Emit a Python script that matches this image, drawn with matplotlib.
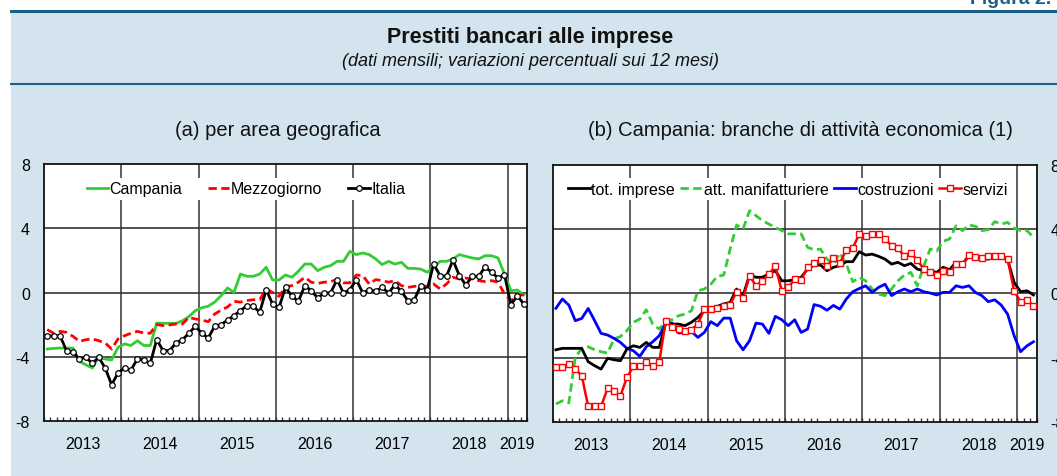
import numpy as np
import matplotlib
matplotlib.use("Agg")
import matplotlib.pyplot as plt
from matplotlib.patches import Rectangle
from matplotlib.lines import Line2D

plt.rcParams['font.family'] = ['Liberation Sans', 'DejaVu Sans']
plt.rcParams['axes.unicode_minus'] = False

# ------------------ DATA (monthly, Jan 2013 - Mar 2019) ------------------
year_labels = ['2013', '2014', '2015', '2016', '2017', '2018', '2019']

# (a) per area geografica
campania = [-3.52, -3.48, -3.46, -3.46, -3.46, -4.29, -4.5, -4.70, -4.04, -4.14,
            -4.2, -3.41, -3.2, -3.3, -3.0, -3.3, -3.3, -1.90, -1.92, -1.92,
            -1.92, -1.76, -1.5, -1.13, -0.95, -0.85, -0.6, -0.2, 0.28, 0.01,
            1.15, 1.01, 1.01, 1.15, 1.57, 0.78, 0.78, 1.09, 0.95, 1.32,
            1.77, 1.77, 1.36, 1.57, 1.67, 1.94, 1.94, 2.56, 2.36, 2.46,
            2.36, 2.09, 1.74, 1.94, 1.77, 1.88, 1.50, 1.50, 1.46, 1.26,
            1.57, 1.94, 1.94, 2.09, 2.36, 2.25, 2.15, 2.09, 2.29, 2.29,
            2.15, 1.15, 0.11, 0.15, -0.14]
mezzogiorno = [-2.31, -2.54, -2.42, -2.48, -2.73, -3.04, -2.94, -2.89, -3.0, -3.14,
               -3.52, -2.89, -2.69, -2.54, -2.42, -2.52, -2.54, -2.0, -2.06, -2.02,
               -1.96, -1.96, -1.55, -1.65, -1.71, -1.82, -1.34, -1.1, -0.9, -0.55,
               -0.6, -0.5, -0.45, -0.45, 0.22, 0.0, -0.24, 0.36, 0.43, 0.64,
               0.95, 0.64, 0.57, 0.64, 0.68, 0.8, 0.6, 0.6, 1.09, 1.05,
               0.53, 0.80, 0.74, 0.64, 0.74, 0.43, 0.32, 0.38, 0.43, 0.38,
               0.53, 0.22, 0.53, 0.95, 0.84, 0.90, 0.84, 0.74, 0.68, 0.74,
               0.64, -0.09, -0.51, -0.2, -0.14]
italia = [-2.71, -2.71, -2.71, -3.62, -3.73, -4.14, -4.04, -4.41, -4.04, -4.70,
          -5.74, -5.01, -4.70, -4.83, -4.14, -4.20, -4.41, -2.94, -3.62, -3.62,
          -3.14, -2.94, -2.54, -2.10, -2.54, -2.83, -2.10, -2.00, -1.71, -1.44,
          -1.13, -0.82, -0.86, -1.23, 0.17, -0.72, -0.92, 0.32, -0.24, -0.55,
          0.43, 0.11, -0.34, -0.03, -0.03, 0.80, -0.03, 0.18, 0.80, -0.03,
          0.18, 0.07, 0.32, -0.03, 0.49, 0.07, -0.51, -0.45, 0.43, 0.18,
          1.77, 1.05, 1.01, 2.02, 1.05, 0.47, 1.01, 1.01, 1.59, 1.26,
          0.90, 1.11, -0.76, -0.20, -0.72]

# (b) Campania: branche di attivita'
tot_imprese = [-3.51, -3.42, -3.42, -3.42, -3.42, -4.25, -4.5, -4.71, -4.04, -4.13,
               -4.19, -3.46, -3.26, -3.36, -3.05, -3.36, -3.36, -1.87, -1.91, -1.91,
               -2.01, -1.8, -1.5, -1.08, -0.94, -0.81, -0.66, -0.56, 0.27, -0.14,
               1.14, 1.0, 1.0, 1.2, 1.41, 0.78, 0.78, 0.86, 1.0, 1.51,
               1.76, 1.76, 1.41, 1.62, 1.72, 1.97, 1.97, 2.59, 2.38, 2.44,
               2.3, 2.13, 1.82, 1.93, 1.72, 1.86, 1.51, 1.41, 1.41, 1.3,
               1.62, 1.47, 1.93, 1.82, 2.34, 2.28, 2.17, 2.13, 2.23, 2.23,
               2.09, 0.68, 0.1, 0.16, -0.1]
manifatturiere = [-6.88, -6.68, -6.82, -3.98, -3.42, -3.32, -3.51, -3.63, -3.71, -2.84,
                  -2.68, -2.32, -1.8, -1.6, -1.02, -1.91, -2.22, -1.76, -1.64, -1.39,
                  -1.29, -1.08, 0.16, 0.27, 0.57, 1.05, 1.14, 2.76, 4.25, 4.0,
                  5.14, 4.83, 4.52, 4.31, 4.1, 3.9, 3.7, 3.7, 3.7, 2.86,
                  2.71, 2.75, 2.13, 1.82, 2.51, 1.82, 0.72, 0.99, 0.78, 0.27,
                  -0.05, -0.14, 0.27, 0.78, 1.14, 1.3, 0.47, 1.7, 2.76, 2.62,
                  3.24, 3.38, 4.2, 3.9, 4.25, 4.17, 3.9, 3.96, 4.46, 4.31,
                  4.41, 4.06, 3.9, 3.9, 3.49]
costruzioni = [-0.93, -0.35, -0.73, -1.7, -1.56, -0.94, -1.7, -2.49, -2.59, -2.8,
               -3.05, -3.42, -3.57, -3.92, -3.32, -3.01, -2.64, -1.87, -1.85, -2.47,
               -2.43, -2.37, -2.74, -2.43, -1.76, -2.01, -1.54, -1.54, -2.95, -3.51,
               -2.95, -1.85, -1.91, -2.49, -1.43, -1.64, -2.01, -1.64, -2.43, -2.22,
               -0.7, -0.8, -1.05, -0.75, -0.98, -0.35, 0.1, 0.3, 0.47, 0.06,
               0.37, 0.57, -0.14, 0.1, 0.27, 0.1, 0.27, 0.1, 0.02, -0.1,
               0.06, 0.06, 0.47, 0.37, 0.47, 0.06, -0.14, -0.52, -0.4, -0.73,
               -1.3, -2.63, -3.63, -3.26, -3.01]
servizi = [-4.6, -4.6, -4.4, -4.71, -5.12, -7.03, -6.99, -7.03, -5.91, -6.1,
           -6.37, -5.23, -4.54, -4.54, -4.29, -4.54, -4.29, -1.74, -2.1, -2.22,
           -2.32, -2.26, -1.91, -0.98, -0.98, -0.94, -0.77, -0.7, 0.1, -0.31,
           1.09, 0.47, 0.78, 1.2, 1.68, 0.16, 0.37, 0.89, 0.85, 1.62,
           1.86, 2.07, 1.68, 2.17, 1.88, 2.71, 2.81, 3.69, 3.59, 3.69,
           3.69, 3.38, 2.97, 2.8, 2.3, 2.51, 2.07, 1.51, 1.3, 1.16,
           1.41, 1.3, 1.82, 1.82, 2.38, 2.28, 2.17, 2.3, 2.3, 2.3,
           2.13, 0.16, -0.52, -0.42, -0.77]

months = np.arange(len(italia))

# ------------------ COLOURS ------------------
BG_BLUE = '#d3e4ee'
RULE = '#1d5f86'
GREEN = '#33cc33'
RED = '#ff0000'
BLUE = '#0000ff'

W, H = 1057, 477
fig = plt.figure(figsize=(W / 100, H / 100), dpi=100, facecolor='white')

# background box and rules
fig.patches.append(Rectangle((11 / W, 0), 1 - 11 / W, 1 - 12 / H,
                             transform=fig.transFigure, facecolor=BG_BLUE,
                             edgecolor='none', zorder=-10))
fig.add_artist(Line2D([11 / W, 1], [1 - 12 / H] * 2, color=RULE, lw=2.2))
fig.add_artist(Line2D([11 / W, 1], [1 - 85 / H] * 2, color=RULE, lw=1.5))

fig.text(970 / W, 1 - 4 / H, 'Figura 2.', color=RULE, fontsize=14,
         fontweight='bold', ha='left', va='baseline')
fig.text(530 / W, 1 - 37 / H, 'Prestiti bancari alle imprese', fontsize=15.5,
         fontweight='bold', ha='center', va='center', color='#111111')
fig.text(530 / W, 1 - 62 / H, '(dati mensili; variazioni percentuali sui 12 mesi)',
         fontsize=13, style='italic', ha='center', va='center', color='#111111')

fig.text(278 / W, 1 - 130 / H, '(a) per area geografica', fontsize=14.5,
         ha='center', va='center', color='#111111')
fig.text(800 / W, 1 - 130 / H, '(b) Campania: branche di attività economica (1)',
         fontsize=14.5, ha='center', va='center', color='#111111')

ax1 = fig.add_axes([44 / W, 1 - 422 / H, 483 / W, 257 / H])
ax2 = fig.add_axes([552.7 / W, 1 - 423 / H, 484 / W, 257.3 / H])


def style_axis(ax):
    ax.set_xlim(-0.5, len(months) - 0.5)
    ax.set_ylim(-8, 8)
    ax.set_facecolor('white')
    for yv in (-4, 0, 4):
        ax.axhline(yv, color='#222222', lw=1.1, zorder=1)
    for xv in np.arange(11.5, len(months), 12):
        ax.axvline(xv, color='#333333', lw=1.1, zorder=1)
    for s in ax.spines.values():
        s.set_color('#111111')
        s.set_linewidth(1.3)
    ax.set_xticks([5.5, 17.5, 29.5, 41.5, 53.5, 65.5, 73])
    ax.set_xticklabels(year_labels)
    ax.set_xticks(np.arange(-0.5, len(months), 1), minor=True)
    ax.tick_params(axis='x', which='major', length=0, pad=11, labelsize=11.5)
    ax.tick_params(axis='x', which='minor', direction='in', length=3,
                   width=1, color='#333333')
    ax.set_yticks([-8, -4, 0, 4, 8])
    ax.tick_params(axis='y', length=0, pad=10, labelsize=11.5)


style_axis(ax1)
style_axis(ax2)
ax2.yaxis.tick_right()

# ------------------ PANEL (a) ------------------
ax1.plot(months, campania, color=GREEN, lw=2, label='Campania', zorder=3)
ax1.plot(months, mezzogiorno, color=RED, lw=2, ls=(0, (3, 1.6)),
         label='Mezzogiorno', zorder=4)
ax1.plot(months, italia, color='black', lw=2, marker='o', ms=4,
         mfc='white', mec='black', mew=0.9, label='Italia', zorder=5)

leg1 = ax1.legend(loc='center', bbox_to_anchor=(0.418, 0.903), ncol=3,
                  fontsize=11.5, frameon=True, facecolor='white', edgecolor='none',
                  framealpha=1, fancybox=False, handlelength=1.35,
                  handletextpad=0.1, columnspacing=1.6, borderpad=0.2,
                  numpoints=1)
leg1.set_zorder(6)

# ------------------ PANEL (b) ------------------
ax2.plot(months, tot_imprese, color='black', lw=2, label='tot. imprese', zorder=4)
ax2.plot(months, manifatturiere, color=GREEN, lw=2, ls=(0, (3, 1.6)),
         label='att. manifatturiere', zorder=3)
ax2.plot(months, costruzioni, color=BLUE, lw=2, label='costruzioni', zorder=3)
ax2.plot(months, servizi, color=RED, lw=1.8, marker='s', ms=4.5,
         mfc='white', mec=RED, mew=1, label='servizi', zorder=5)

leg2 = ax2.legend(loc='center', bbox_to_anchor=(0.486, 0.905), ncol=4,
                  fontsize=11.5, frameon=True, facecolor='white', edgecolor='none',
                  framealpha=1, fancybox=False, handlelength=1.35,
                  handletextpad=0.1, columnspacing=0.35, borderpad=0.2,
                  numpoints=1)
leg2.set_zorder(6)

fig.savefig('out.png', dpi=100)
